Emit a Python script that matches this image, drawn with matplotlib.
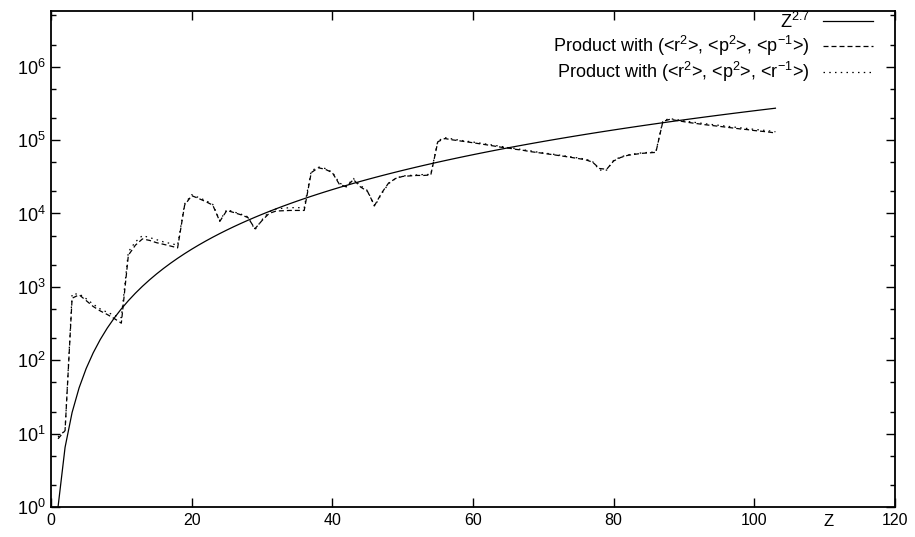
import numpy as np
import matplotlib
matplotlib.use("Agg")
import matplotlib.pyplot as plt
from matplotlib.ticker import LogLocator, FixedLocator, LogFormatterMathtext

plt.rcParams['font.family'] = ['Liberation Sans', 'DejaVu Sans']
plt.rcParams['mathtext.fontset'] = 'custom'
plt.rcParams['mathtext.rm'] = 'Liberation Sans'
plt.rcParams['mathtext.it'] = 'Liberation Sans:italic'
plt.rcParams['mathtext.bf'] = 'Liberation Sans:bold'

# atomic number Z = 1 .. 103
z_values = list(range(1, 104))
power = 2.7

# product with (<r^2>, <p^2>, <p^-1>)
prod_p = [
    8.5, 11, 700, 780, 650, 540, 470, 420, 370, 320,
    2700, 3700, 4500, 4300, 4000, 3800, 3600, 3400, 13000, 17500,
    16000, 14500, 13000, 7800, 11000, 10300, 9600, 8800, 6200, 8000,
    10000, 10800, 10900, 11000, 11000, 11000, 36000, 42000, 40000, 36000,
    25000, 23000, 29000, 23000, 20000, 12800, 19000, 26000, 30000, 32000,
    32500, 33000, 33000, 33500, 95000, 105000, 101000, 98000, 95000, 92000,
    89000, 86000, 83000, 80000, 78000, 75000, 73000, 70000, 68000, 66000,
    64000, 62000, 60000, 58000, 56000, 54000, 50000, 41000, 40000, 52000,
    58000, 62000, 64000, 66000, 67000, 68000, 180000, 192000, 185000, 178000,
    172000, 167000, 162000, 158000, 154000, 150000, 146000, 142000, 139000, 135000,
    132000, 129000, 125000,
]

# product with (<r^2>, <p^2>, <r^-1>)
prod_r = [
    9, 11, 800, 800, 690, 580, 500, 450, 410, 380,
    3000, 4100, 5000, 4700, 4400, 4100, 3900, 3700, 13500, 18000,
    16500, 15000, 13300, 8000, 11300, 10500, 9800, 9000, 6000, 8200,
    10500, 11500, 11800, 12000, 12000, 12000, 38000, 43000, 41000, 36500,
    26000, 23500, 30000, 24000, 20500, 12500, 18500, 25500, 30000, 32500,
    33000, 33500, 34000, 34000, 98000, 108000, 104000, 100000, 97000, 94000,
    91000, 88000, 85000, 82000, 79000, 77000, 74000, 72000, 69000, 67000,
    65000, 63000, 61000, 59000, 57000, 55000, 51000, 39000, 39000, 53000,
    59000, 63000, 65000, 67000, 68000, 69000, 185000, 196000, 190000, 183000,
    177000, 172000, 167000, 163000, 159000, 155000, 151000, 147000, 144000, 140000,
    137000, 134000, 130000,
]

x_ticks = [0, 20, 40, 60, 80, 100, 120]

z = np.array(z_values, dtype=float)

fig = plt.figure(figsize=(9.15, 5.37), dpi=100)
ax = fig.add_axes([51 / 915, 30 / 537, 844 / 915, 496.3 / 537])

ax.plot(z, z ** power, color='black', lw=0.9, label=r'Z$^{2.7}$')
ax.plot(z, prod_p, color='black', lw=0.9, dashes=(4, 2.4),
        label=r'Product with (<r$^2$>, <p$^2$>, <p$^{-1}$>)')
ax.plot(z, prod_r, color='black', lw=0.9, dashes=(1.2, 3.4),
        label=r'Product with (<r$^2$>, <p$^2$>, <r$^{-1}$>)')

ax.set_yscale('log')
ax.set_xlim(0, 120)
ax.set_ylim(1, 5.8e6)
ax.xaxis.set_major_locator(FixedLocator(x_ticks))
ax.yaxis.set_major_locator(LogLocator(base=10, numticks=10))
ax.yaxis.set_minor_locator(LogLocator(base=10, subs=(2.0, 5.0), numticks=10))
ax.yaxis.set_major_formatter(LogFormatterMathtext())

ax.tick_params(axis='both', which='both', direction='in', top=True, right=True, width=1.0)
ax.tick_params(axis='x', which='major', labelsize=11.5, pad=4)
ax.tick_params(axis='y', which='major', labelsize=13, pad=4)
ax.tick_params(axis='both', which='major', length=6.5)
ax.tick_params(axis='both', which='minor', length=3.6)
for sp in ax.spines.values():
    sp.set_linewidth(1.3)

ax.set_xlabel('Z', fontsize=12)
ax.xaxis.set_label_coords(0.921, -0.014)

ax.legend(loc='upper right', bbox_to_anchor=(0.974, 0.998), frameon=False,
          markerfirst=False, fontsize=13, handlelength=2.8, handletextpad=0.7,
          labelspacing=0.12, borderaxespad=0, borderpad=0)

fig.savefig('out.png', dpi=100)
